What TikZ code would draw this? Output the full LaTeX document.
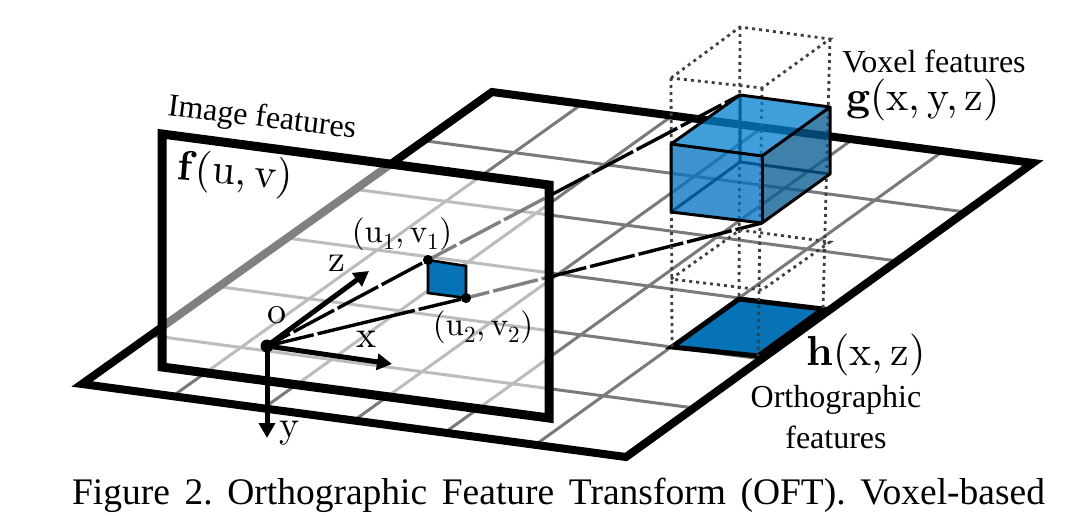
\documentclass[tikz,border=0pt]{standalone}
\usepackage{fontspec}
\usetikzlibrary{arrows.meta,calc}
\setmainfont{lmroman10-regular}[Extension=.otf, BoldFont=lmroman10-bold]
\newfontfamily\timesfont{Liberation Serif}
\definecolor{cellblue}{RGB}{5,115,182}
\tikzset{
  gridline/.style={draw=black!52, line width=3pt},
  edgeline/.style={draw=black, line width=8pt},
  dotline/.style={draw=black!75, line width=2.8pt, dash pattern=on 3pt off 4pt},
  rayline/.style={draw=black, line width=3.4pt, dash pattern=on 46pt off 4pt},
  axisline/.style={draw=black, line width=5pt, -{Triangle[length=15pt,width=16pt]}},
  dotnode/.style={circle, fill=black, inner sep=0pt, minimum size=#1},
  bigtext/.style={font=\fontsize{42}{45}\selectfont, inner sep=0pt},
  midtext/.style={font=\fontsize{33}{36}\selectfont, inner sep=0pt},
  axistext/.style={font=\fontsize{38}{40}\selectfont, inner sep=0pt},
  captext/.style={font=\timesfont\fontsize{32}{34}\selectfont, inner sep=0pt},
  voxface/.style={draw=none, fill opacity=0.77}
}
\begin{document}
\begin{tikzpicture}[x=1pt, y=-1pt]
\useasboundingbox (0,0) rectangle (1079,516);
% ground plane
\coordinate (pleft) at (82,384);
\coordinate (pfront) at (626,457);
\coordinate (pright) at (1033,163);
\coordinate (pback) at (492,92);
\foreach \i in {1,...,5} {
  \draw[gridline] ($(pleft)!\i/6!(pfront)$) -- ($(pback)!\i/6!(pright)$);
  \draw[gridline] ($(pleft)!\i/6!(pback)$) -- ($(pfront)!\i/6!(pright)$);
}
\draw[edgeline] (pleft) -- (pfront) -- (pright) -- (pback) -- cycle;
% orthographic cell
\coordinate (ca) at (672,347);
\coordinate (cb) at (739,299);
\coordinate (cc) at (823,309);
\coordinate (cd) at (758,356);
\draw[line width=5pt, fill=cellblue] (ca) -- (cb) -- (cc) -- (cd) -- cycle;
% rays behind the image plane
\node[dotnode=10pt] (o) at (267,346) {};
\node[dotnode=10pt] (uone) at (428,260) {};
\node[dotnode=10pt] (utwo) at (466,298) {};
\coordinate (ta) at (671,144);
\coordinate (tb) at (740,95);
\coordinate (tc) at (830,107);
\coordinate (td) at (762,156);
\coordinate (ba) at (671,212);
\coordinate (bb) at (740,162);
\coordinate (bc) at (830,174);
\coordinate (bd) at (762,223);
\draw[rayline, dash phase=14pt] (uone.center) -- (tb);
\draw[rayline, dash phase=22pt] (utwo.center) -- (bd);
% dotted column
\coordinate (ua) at (671,78);
\coordinate (ub) at (740,27);
\coordinate (uc) at (830,39);
\coordinate (ud) at (762,88);
\coordinate (la) at (671,279);
\coordinate (lb) at (740,230);
\coordinate (lc) at (830,242);
\coordinate (ld) at (762,290);
\draw[dotline] (ua) -- (ub) -- (uc) -- (ud) -- cycle;
\draw[dotline] (la) -- (lb) -- (lc) -- (ld) -- cycle;
\draw[dotline] (ua) -- (ca);
\draw[dotline] (ub) -- (cb);
\draw[dotline] (uc) -- (cc);
\draw[dotline] (ud) -- (cd);
% voxel
\draw[line width=3pt] (tb) -- (bb) -- (ba);
\draw[line width=3pt] (bb) -- (bc);
\fill[voxface, fill={rgb,255:red,6;green,130;blue,208}] (ta) -- (tb) -- (tc) -- (td) -- cycle;
\fill[voxface, fill={rgb,255:red,3;green,116;blue,194}] (ta) -- (td) -- (bd) -- (ba) -- cycle;
\fill[voxface, fill={rgb,255:red,5;green,91;blue,145}] (td) -- (tc) -- (bc) -- (bd) -- cycle;
\draw[line width=3pt, line join=round] (ta) -- (tb) -- (tc) -- (td) -- cycle;
\draw[line width=3pt, line join=round] (ta) -- (ba) -- (bd) -- (bc) -- (tc);
\draw[line width=3pt] (td) -- (bd);
% image plane
\coordinate (fa) at (162,134);
\coordinate (fb) at (549,185);
\coordinate (fc) at (549,418);
\coordinate (fd) at (162,367);
\draw[line width=9pt, fill=white, fill opacity=0.5] (fa) -- (fb) -- (fc) -- (fd) -- cycle;
% patch and rays in front
\coordinate (pa) at (466,266);
\coordinate (pb) at (428,293);
\draw[line width=2.6pt, fill=cellblue] (uone.center) -- (pa) -- (utwo.center) -- (pb) -- cycle;
\draw[rayline, dash phase=20pt] (o.center) -- (uone);
\draw[rayline, dash pattern=on 100pt off 4pt, dash phase=52pt] (o.center) -- (utwo);
\node[dotnode=10pt] at (uone) {};
\node[dotnode=10pt] at (utwo) {};
% axes
\coordinate (zend) at (369,271);
\coordinate (xend) at (392,364);
\coordinate (yend) at (267,438);
\draw[axisline] (o.center) -- (zend);
\draw[axisline] (o.center) -- (xend);
\draw[axisline] (o.center) -- (yend);
\node[dotnode=13pt] at (o) {};
% labels
\node[captext, rotate=-7] (imglabel) at (262,119) {Image features};
\node[bigtext, rotate=-5] (flabel) at (235,174) {\textbf{f}(u,\,v)};
\node[captext] (voxlabel) at (934,61) {Voxel features};
\node[bigtext] (glabel) at (923,100) {\textbf{g}(x,\,y,\,z)};
\node[bigtext] (hlabel) at (866,355) {\textbf{h}(x,\,z)};
\node[captext, align=center] (ortlabel) at (836,417) {Orthographic\\[7pt]features};
\node[midtext] (uonelabel) at (402,234) {(u\textsubscript{1},\,v\textsubscript{1})};
\node[midtext] (utwolabel) at (483,327) {(u\textsubscript{2},\,v\textsubscript{2})};
\node[axistext] (olabel) at (277,315) {o};
\node[axistext] (zlabel) at (337,263) {z};
\node[axistext] (xlabel) at (367,339) {x};
\node[axistext] (ylabel) at (290,433) {y};
\node[font=\timesfont\fontsize{37.5}{40}\selectfont, inner sep=0pt] (caption) at (558.5,495) {\frenchspacing\makebox[973pt][s]{Figure 2. Orthographic Feature Transform (OFT). Voxel-based}};
\end{tikzpicture}
\end{document}
